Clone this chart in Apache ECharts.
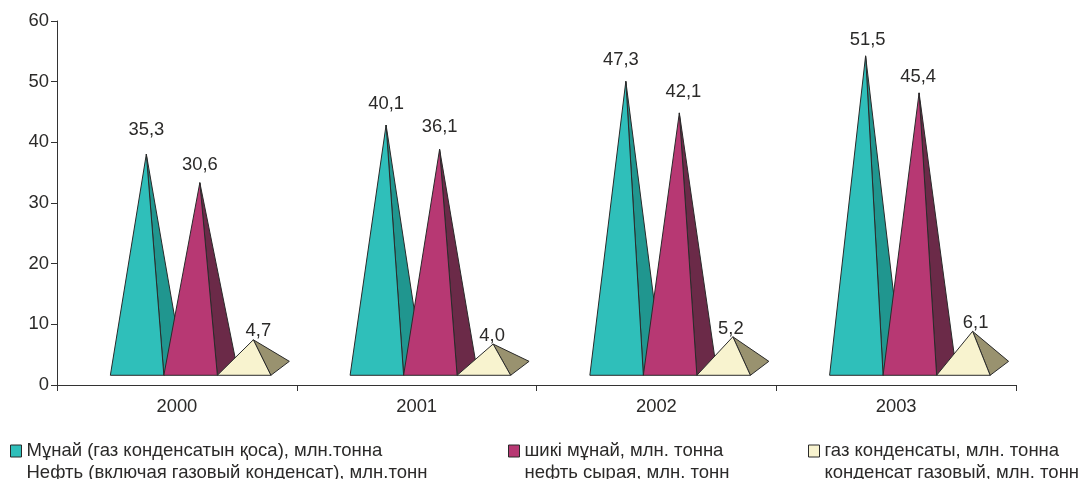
<!DOCTYPE html>
<html><head><meta charset="utf-8">
<style>html,body{margin:0;padding:0;background:#fff}#c{width:1080px;height:479px}</style>
<script src="https://cdn.jsdelivr.net/npm/echarts@6/dist/echarts.min.js"></script>
</head><body><div id="c"></div>
<script>
const years = ['2000','2001','2002','2003'];
const oilTotal = [35.3, 40.1, 47.3, 51.5];
const crudeOil = [30.6, 36.1, 42.1, 45.4];
const gasCondensate = [4.7, 4.0, 5.2, 6.1];
const yTicks = {min:0, max:60, interval:10};
const nameOil = 'Мұнай (газ конденсатын қоса), млн.тонна\nНефть (включая газовый конденсат), млн.тонн';
const nameCrude = 'шикі мұнай, млн. тонна\nнефть сырая, млн. тонн';
const nameCond = 'газ конденсаты, млн. тонна\nконденсат газовый, млн. тонн';

const FONT = '"Liberation Sans", Arial, sans-serif';
const INK = '#2b2a29';
const EDGE = '#2a2a2a';
const BAR = 0.2232, DEPTH_X = 0.345, BASE_FRONT = 1.6, BASE_MID = 2.75;
const faces = [
  {front:'#2fbfba', side:'#20968f', offset:-0.2775},
  {front:'#b73873', side:'#6b2a48', offset:-0.0543},
  {front:'#f8f3cf', side:'#99926f', offset:0.1689}
];
const labelShift = [
  [[0,-24],[0,-21],[-5,-21],[2,-16]],
  [[0,-18],[0,-22],[4,-21],[-1,-16]],
  [[5,-9],[-1,-8],[-2,-8],[3,-8]]
];

function pyramid(s){
  return function(params, api){
    const i = api.value(0), v = api.value(1);
    const c = api.coord([i, 0]);
    const band = api.size([1, 0])[0];
    const w = band * BAR, dx = w * DEPTH_X;
    const left = c[0] + band * faces[s].offset, right = left + w;
    const fy = api.coord([i, BASE_FRONT])[1];
    const my = api.coord([i, BASE_MID])[1];
    const by = fy - (fy - my) * 2;
    const ax = left + w / 2 + dx / 2, ay = api.coord([i, v + BASE_MID])[1];
    const stroke = {stroke: EDGE, lineWidth: 1, lineJoin:'round'};
    const sh = labelShift[s][i];
    return {type:'group', children:[
      {type:'polygon', shape:{points:[[ax,ay],[right,fy],[right+dx,by]]}, style:Object.assign({fill:faces[s].side}, stroke)},
      {type:'polygon', shape:{points:[[ax,ay],[left,fy],[right,fy]]}, style:Object.assign({fill:faces[s].front}, stroke)},
      {type:'text', style:{text:v.toFixed(1).replace('.',','), x:ax+sh[0], y:ay+sh[1], align:'center', verticalAlign:'middle', font:'18.4px '+FONT, fill:INK}}
    ]};
  };
}
function series(name, data, s){
  return {type:'custom', name, clip:false, coordinateSystem:'cartesian2d',
    itemStyle:{color:faces[s].front, borderColor:EDGE, borderWidth:1},
    encode:{x:0,y:1}, data:data.map((v,i)=>[i,v]), renderItem:pyramid(s)};
}
function legend(name, left){
  return {show:true, data:[name], left, top:418, orient:'horizontal', icon:'rect', itemWidth:11, itemHeight:12, itemGap:0,
    selectedMode:false, padding:0, formatter:n=>'\n'+n,
    itemStyle:{borderColor:EDGE, borderWidth:1},
    textStyle:{fontFamily:FONT, fontSize:18.5, color:INK, lineHeight:22}};
}
const chart = echarts.init(document.getElementById('c'), null, {renderer:'canvas'});
chart.setOption({
  animation:false,
  backgroundColor:'#fff',
  grid:{left:57, right:64, top:21, bottom:94},
  legend:[legend(nameOil,10), legend(nameCrude,508), legend(nameCond,808)],
  xAxis:{type:'category', data:years, boundaryGap:true,
    axisLine:{lineStyle:{color:'#333',width:1}},
    axisTick:{show:true,length:6,lineStyle:{color:'#333'}},
    axisLabel:{color:INK, fontFamily:FONT, fontSize:18.4, margin:13}},
  yAxis:{type:'value', min:yTicks.min, max:yTicks.max, interval:yTicks.interval,
    splitLine:{show:false},
    axisLine:{show:true,lineStyle:{color:'#333',width:1}},
    axisTick:{show:true,length:6,lineStyle:{color:'#333'}},
    axisLabel:{color:INK, fontFamily:FONT, fontSize:18.4, margin:8}},
  series:[series(nameOil,oilTotal,0), series(nameCrude,crudeOil,1), series(nameCond,gasCondensate,2)]
});
</script></body></html>
